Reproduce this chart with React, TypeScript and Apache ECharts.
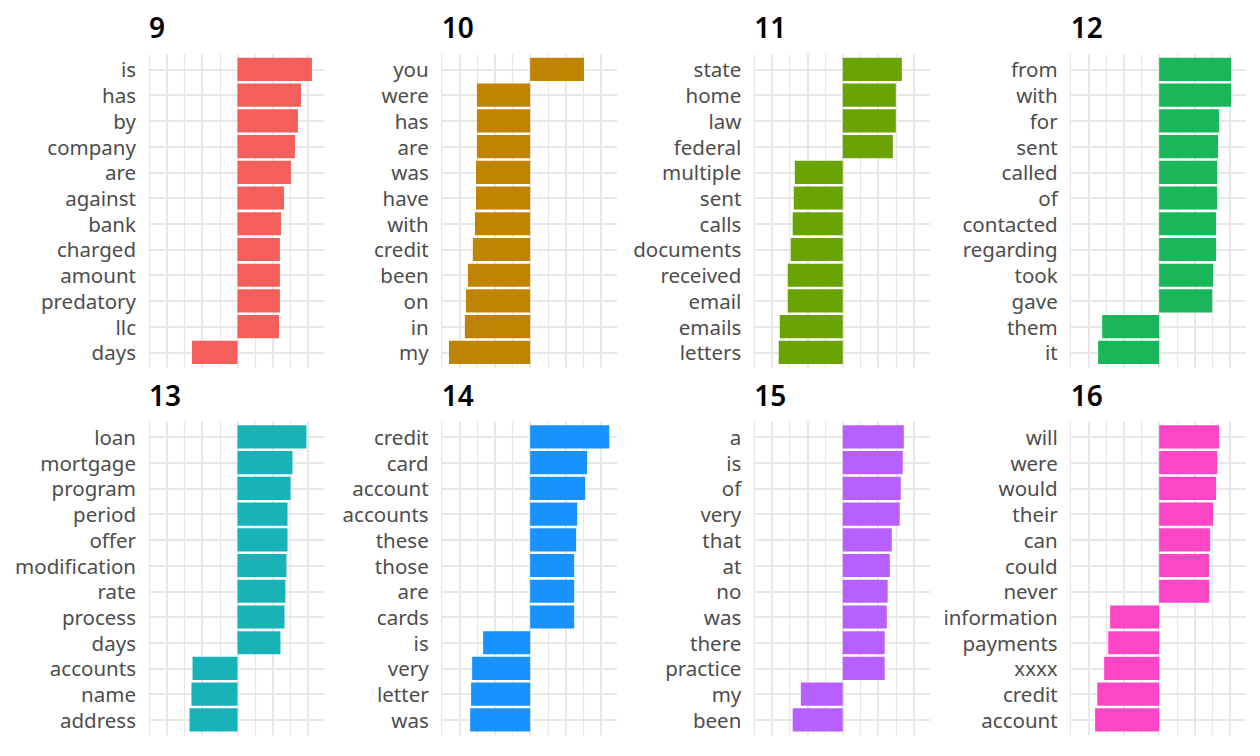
import React, { useEffect, useRef } from "react";
import * as echarts from "echarts";

const panelTitles = ["9", "10", "11", "12", "13", "14", "15", "16"];

const terms9 = ["is", "has", "by", "company", "are", "against", "bank", "charged", "amount", "predatory", "llc", "days"];
const values9 = [4.21, 3.59, 3.42, 3.25, 3.02, 2.63, 2.46, 2.4, 2.4, 2.4, 2.35, -2.57];

const terms10 = ["you", "were", "has", "are", "was", "have", "with", "credit", "been", "on", "in", "my"];
const values10 = [3.04, -3.01, -3.01, -3.01, -3.06, -3.06, -3.12, -3.24, -3.52, -3.63, -3.69, -4.59];

const terms11 = ["state", "home", "law", "federal", "multiple", "sent", "calls", "documents", "received", "email", "emails", "letters"];
const values11 = [3.34, 3.0, 3.0, 2.83, -2.71, -2.77, -2.83, -2.94, -3.11, -3.11, -3.56, -3.62];

const terms12 = ["from", "with", "for", "sent", "called", "of", "contacted", "regarding", "took", "gave", "them", "it"];
const values12 = [4.07, 4.07, 3.39, 3.33, 3.28, 3.28, 3.22, 3.22, 3.05, 3.0, -3.22, -3.45];

const terms13 = ["loan", "mortgage", "program", "period", "offer", "modification", "rate", "process", "days", "accounts", "name", "address"];
const values13 = [3.9, 3.11, 3.0, 2.83, 2.83, 2.77, 2.71, 2.66, 2.43, -2.54, -2.6, -2.71];

const terms14 = ["credit", "card", "account", "accounts", "these", "those", "are", "cards", "is", "very", "letter", "was"];
const values14 = [4.47, 3.22, 3.11, 2.66, 2.6, 2.49, 2.49, 2.49, -2.66, -3.28, -3.34, -3.39];

const terms15 = ["a", "is", "of", "very", "that", "at", "no", "was", "there", "practice", "my", "been"];
const values15 = [3.45, 3.39, 3.28, 3.22, 2.77, 2.66, 2.54, 2.49, 2.37, 2.37, -2.37, -2.83];

const terms16 = ["will", "were", "would", "their", "can", "could", "never", "information", "payments", "xxxx", "credit", "account"];
const values16 = [3.39, 3.28, 3.22, 3.05, 2.88, 2.83, 2.83, -2.77, -2.88, -3.11, -3.5, -3.62];

const panelTerms = [terms9, terms10, terms11, terms12, terms13, terms14, terms15, terms16];
const panelValues = [values9, values10, values11, values12, values13, values14, values15, values16];
const panelColors = ["#F35F5A", "#C08404", "#6AA304", "#1AB65A", "#18B3B6", "#1893FE", "#B85FFF", "#FD46C5"];

const majorBreaks = [-4, -2, 0, 2, 4];
const minorBreaks = [-5, -3, -1, 1, 3];
const xMin = -5;
const xMax = 4.92;

// layout
const colX = [149, 441.7, 754.3, 1070.7];
const rowTop = [54, 421.5];
const titleTop = [13, 381];
const panelW = 175.5;
const panelH = 313.8;
const band = panelH / 12.2;
const FONT = "'Noto Sans', 'DejaVu Sans', sans-serif";
const GRID_COLOR = "#e8e8e8";

function buildOption() {
  const grids: any[] = [];
  const xAxes: any[] = [];
  const yAxes: any[] = [];
  const series: any[] = [];
  const titles: any[] = [];

  panelTitles.forEach((t, i) => {
    const r = Math.floor(i / 4);
    const c = i % 4;
    const left = colX[c];
    const top = rowTop[r];
    const gb = 2 * i;
    const gf = 2 * i + 1;
    grids.push({ left, top, width: panelW, height: panelH });
    grids.push({ left, top: top + band * 0.1, width: panelW, height: band * 12 });

    xAxes.push({ gridIndex: gb, type: "value", min: xMin, max: xMax, show: false });
    yAxes.push({ gridIndex: gb, type: "value", min: 0, max: 1, show: false });
    xAxes.push({ gridIndex: gf, type: "value", min: xMin, max: xMax, show: false });
    yAxes.push({
      gridIndex: gf,
      type: "category",
      data: panelTerms[i],
      inverse: true,
      axisLine: { show: false },
      axisTick: { show: false },
      splitLine: { show: false },
      axisLabel: { margin: 13, color: "#4d4d4d", fontSize: 20.5, fontFamily: FONT, interval: 0 },
    });

    titles.push({
      text: t,
      left,
      top: titleTop[r],
      padding: 0,
      textStyle: { fontSize: 28, fontWeight: 600, color: "#000000", fontFamily: FONT },
    });

    series.push({
      type: "line",
      xAxisIndex: gb,
      yAxisIndex: gb,
      data: [],
      silent: true,
      markLine: {
        silent: true,
        symbol: "none",
        z: 1,
        animation: false,
        label: { show: false },
        lineStyle: { color: GRID_COLOR, type: "solid", width: 2 },
        data: [
          ...majorBreaks.map((v) => ({ xAxis: v, lineStyle: { color: GRID_COLOR, type: "solid", width: 2 } })),
          ...minorBreaks.map((v) => ({ xAxis: v, lineStyle: { color: GRID_COLOR, type: "solid", width: 1.2 } })),
        ],
      },
    });
    series.push({
      type: "line",
      xAxisIndex: gf,
      yAxisIndex: gf,
      data: [],
      silent: true,
      markLine: {
        silent: true,
        symbol: "none",
        z: 1,
        animation: false,
        label: { show: false },
        lineStyle: { color: GRID_COLOR, type: "solid", width: 2 },
        data: panelTerms[i].map((w) => ({ yAxis: w, lineStyle: { color: GRID_COLOR, type: "solid", width: 2 } })),
      },
    });
    series.push({
      type: "bar",
      xAxisIndex: gf,
      yAxisIndex: gf,
      data: panelValues[i],
      barWidth: "90%",
      itemStyle: { color: panelColors[i] },
      z: 3,
      silent: true,
    });
  });

  return {
    animation: false,
    backgroundColor: "#ffffff",
    title: titles,
    grid: grids,
    xAxis: xAxes,
    yAxis: yAxes,
    series,
  };
}

export default function App() {
  const ref = useRef<HTMLDivElement>(null);
  useEffect(() => {
    document.body.style.margin = "0";
    if (!ref.current) return;
    const chart = echarts.init(ref.current, null, { renderer: "svg" });
    chart.setOption(buildOption() as any);
    return () => chart.dispose();
  }, []);
  return <div ref={ref} style={{ width: 1260, height: 756 }} />;
}
